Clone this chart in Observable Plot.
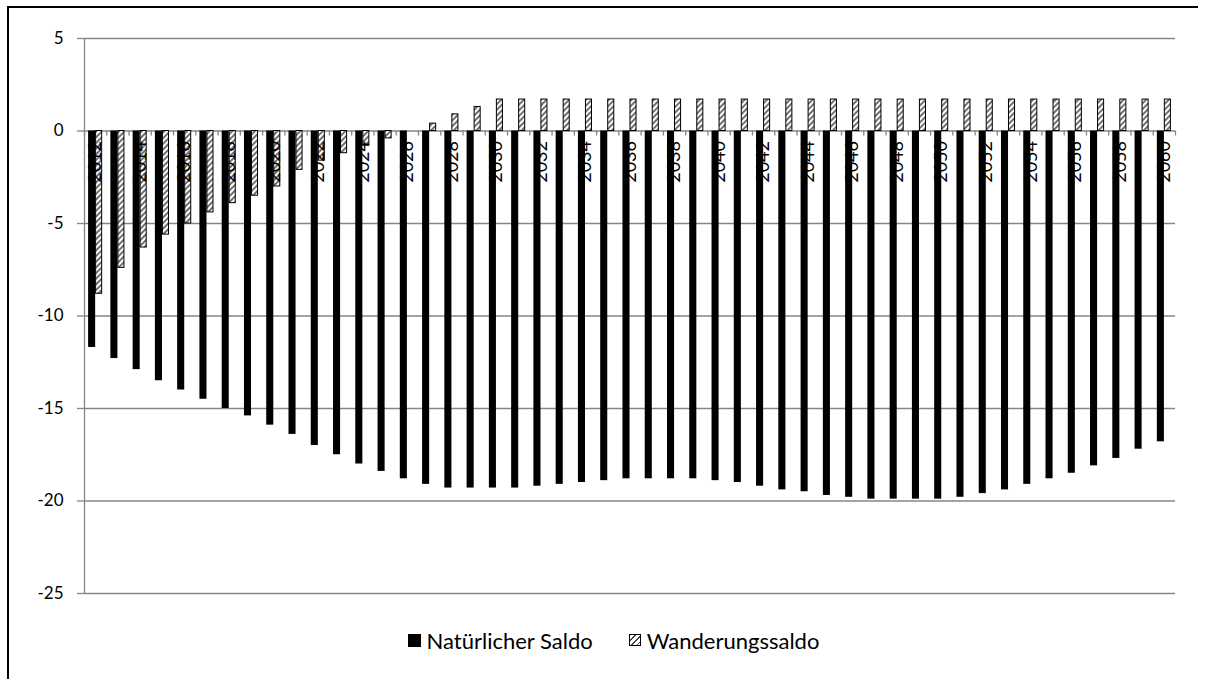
<!DOCTYPE html>
<html>
<head>
<meta charset="utf-8">
<script src="https://cdn.jsdelivr.net/npm/d3@7"></script>
<script src="https://cdn.jsdelivr.net/npm/@observablehq/plot@0.6"></script>
<style>
  html, body { margin: 0; padding: 0; background: #fff; }
  #wrap { position: relative; width: 1205px; height: 679px; overflow: hidden; font-family: Lato, sans-serif; }
  #frame { position: absolute; left: 7px; top: 6px; width: 1191px; height: 700px; border-left: 2px solid #000; border-top: 2px solid #000; box-sizing: border-box; pointer-events: none; }
  #chart { position: absolute; left: 0; top: 0; }
  #legend { position: absolute; left: 0; top: 622px; width: 1205px; height: 36px; display: flex; justify-content: center; align-items: center; font-size: 22px; color: #000; padding-left: 22px; box-sizing: border-box; }
  .item { display: flex; align-items: center; margin: 0 18px; }
  .sw { display: inline-block; margin-right: 6px; box-sizing: border-box; }
</style>
</head>
<body>
<div id="wrap">
  <div id="chart"></div>
  <div id="legend"></div>
  <div id="frame"></div>
</div>
<script>
const years = [2012,2013,2014,2015,2016,2017,2018,2019,2020,2021,2022,2023,2024,2025,2026,2027,2028,2029,2030,2031,2032,2033,2034,2035,2036,2037,2038,2039,2040,2041,2042,2043,2044,2045,2046,2047,2048,2049,2050,2051,2052,2053,2054,2055,2056,2057,2058,2059,2060];
const natuerlicherSaldo = [-11.7,-12.3,-12.9,-13.5,-14.0,-14.5,-15.0,-15.4,-15.9,-16.4,-17.0,-17.5,-18.0,-18.4,-18.8,-19.1,-19.3,-19.3,-19.3,-19.3,-19.2,-19.1,-19.0,-18.9,-18.8,-18.8,-18.8,-18.8,-18.9,-19.0,-19.2,-19.4,-19.5,-19.7,-19.8,-19.9,-19.9,-19.9,-19.9,-19.8,-19.6,-19.4,-19.1,-18.8,-18.5,-18.1,-17.7,-17.2,-16.8];
const wanderungssaldo = [-8.8,-7.4,-6.3,-5.6,-5.0,-4.4,-3.9,-3.5,-3.0,-2.1,-1.6,-1.2,-0.8,-0.4,0.0,0.4,0.9,1.3,1.7,1.7,1.7,1.7,1.7,1.7,1.7,1.7,1.7,1.7,1.7,1.7,1.7,1.7,1.7,1.7,1.7,1.7,1.7,1.7,1.7,1.7,1.7,1.7,1.7,1.7,1.7,1.7,1.7,1.7,1.7];
const xTickLabels = [2012,2014,2016,2018,2020,2022,2024,2026,2028,2030,2032,2034,2036,2038,2040,2042,2044,2046,2048,2050,2052,2054,2056,2058,2060];
const yTicks = [5,0,-5,-10,-15,-20,-25];
const seriesNames = ["Natürlicher Saldo", "Wanderungssaldo"];

const natRows = years.map((y, i) => ({year: y, series: seriesNames[0], value: natuerlicherSaldo[i]}));
const wanRows = years.map((y, i) => ({year: y, series: seriesNames[1], value: wanderungssaldo[i]})).filter(d => d.value !== 0);

const grid = "#868686";
const W = 1205, ML = 84, MR = 30;
const bw = (W - ML - MR) / years.length;
const plot = Plot.plot({
  width: W,
  height: 612,
  marginLeft: ML,
  marginRight: MR,
  marginTop: 38,
  marginBottom: 19,
  style: {fontFamily: "Lato, sans-serif", fontSize: "17px", background: "transparent"},
  x: {type: "band", domain: years, paddingInner: 0, paddingOuter: 0, round: false, axis: null},
  y: {domain: [-25, 5], axis: null},
  marks: [
    Plot.ruleY(yTicks, {stroke: grid, strokeWidth: 1.3}),
    Plot.barY(natRows, {x: "year", y: "value", fill: "#000", insetLeft: 4.1, insetRight: 11.1}),
    Plot.barY(wanRows, {x: "year", y: "value", fill: "url(#hatch)", stroke: "#000", strokeWidth: 1, insetLeft: 11.6, insetRight: 4.6}),
    Plot.ruleX(years, {x: d => d, y1: 0, y2: 0, insetBottom: -5, dx: -bw / 2, stroke: grid, strokeWidth: 1.3}),
    Plot.ruleX([years[years.length - 1]], {x: d => d, y1: 0, y2: 0, insetBottom: -5, dx: bw / 2, stroke: grid, strokeWidth: 1.3}),
    Plot.ruleX([years[0]], {x: d => d, y1: -25, y2: 5, dx: -bw / 2, stroke: grid, strokeWidth: 1.3}),
    Plot.axisY({ticks: yTicks, tickFormat: d => String(d), label: null, tickSize: 7, tickPadding: 14, stroke: grid, strokeWidth: 1.3, fill: "#000", fontSize: 17}),
    Plot.text(xTickLabels, {x: d => d, y: 0, text: d => String(d), rotate: -90, textAnchor: "end", lineAnchor: "middle", dy: 10, fill: "#000", fontSize: 18})
  ]
});

// hatch pattern definition
const ns = "http://www.w3.org/2000/svg";
const defs = document.createElementNS(ns, "defs");
defs.innerHTML = '<pattern id="hatch" patternUnits="userSpaceOnUse" width="4" height="4" patternTransform="rotate(45)"><rect width="4" height="4" fill="#fff"/><line x1="1" y1="0" x2="1" y2="4" stroke="#333" stroke-width="1.4"/></pattern>';
plot.insertBefore(defs, plot.firstChild);
document.getElementById("chart").appendChild(plot);

// legend
const legend = document.getElementById("legend");
seriesNames.forEach((name, i) => {
  const item = document.createElement("div");
  item.className = "item";
  const sw = document.createElement("span");
  sw.className = "sw";
  if (i === 0) {
    sw.style.cssText = "width:13px;height:13px;background:#000;";
  } else {
    sw.style.cssText = "width:12px;height:12px;border:1px solid #000;background:repeating-linear-gradient(-45deg,#fff 0 1.5px,#444 1.5px 2.8px,#fff 2.8px 4px);";
  }
  const t = document.createElement("span");
  t.textContent = name;
  item.appendChild(sw);
  item.appendChild(t);
  legend.appendChild(item);
});
</script>
</body>
</html>
